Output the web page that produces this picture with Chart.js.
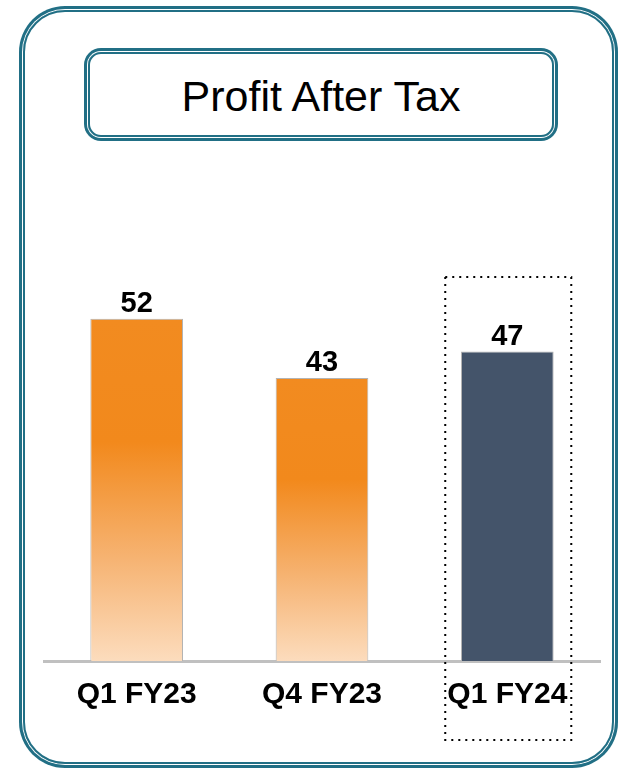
<!DOCTYPE html>
<html>
<head>
<meta charset="utf-8">
<script src="https://cdn.jsdelivr.net/npm/chart.js@4"></script>
<style>
  body { margin: 0; background: #fff; }
  .frame {
    position: absolute; left: 23px; top: 10px; width: 591px; height: 754px;
    box-sizing: border-box; border: 2px solid #216f85; border-radius: 42px;
    box-shadow: 0 0 0 1px #fff, 0 0 0 4px #216f85;
  }
  .title {
    position: absolute; left: 88px; top: 52px; width: 466px; height: 85px;
    box-sizing: border-box; border: 2px solid #216f85; border-radius: 13px;
    box-shadow: 0 0 0 1px #fff, 0 0 0 4px #216f85;
    display: flex; align-items: center; justify-content: center; padding-top: 4px;
    font: 43px "Liberation Sans", Arial, sans-serif; color: #000;
  }
  #wrap { position: absolute; left: 0; top: 0; width: 620px; height: 768px; }
</style>
</head>
<body>
<div class="frame"></div>
<div class="title">Profit After Tax</div>
<div id="wrap"><canvas id="c" width="620" height="768"></canvas></div>
<script>
// dati
var quarters = ['Q1 FY23', 'Q4 FY23', 'Q1 FY24'];
var profit = [52, 43, 47];
var highlightIndex = 2;

var fontFam = '"Liberation Sans", Arial, sans-serif';

// gradiente arancione per ogni barra (dall'alto al basso)
function barColor(context) {
  if (context.dataIndex === highlightIndex) return '#44546a';
  var chart = context.chart;
  if (!chart.chartArea) return '#f28a1e';
  var y = chart.scales.y;
  var top = y.getPixelForValue(context.raw);
  var bottom = y.getPixelForValue(0);
  var g = chart.ctx.createLinearGradient(0, top, 0, bottom);
  g.addColorStop(0, '#f28b20');
  g.addColorStop(0.36, '#f2891c');
  g.addColorStop(0.7, '#f6b372');
  g.addColorStop(1, '#fcdcbd');
  return g;
}

// numeri sopra le barre
var valueLabels = {
  id: 'valueLabels',
  afterDatasetsDraw: function (chart) {
    var ctx = chart.ctx;
    var meta = chart.getDatasetMeta(0);
    ctx.save();
    ctx.font = 'bold 29px ' + fontFam;
    ctx.fillStyle = '#000';
    ctx.textAlign = 'center';
    ctx.textBaseline = 'alphabetic';
    meta.data.forEach(function (bar, i) {
      ctx.fillText(profit[i], bar.x, bar.y - 7);
    });
    ctx.restore();
  }
};

// riquadro tratteggiato attorno all'ultimo trimestre
var highlightBox = {
  id: 'highlightBox',
  afterDraw: function (chart) {
    var ctx = chart.ctx;
    var bar = chart.getDatasetMeta(0).data[highlightIndex];
    var x = chart.scales.x;
    var half = (x.getPixelForValue(1) - x.getPixelForValue(0)) / 2;
    ctx.save();
    ctx.strokeStyle = '#000';
    ctx.lineWidth = 2;
    ctx.setLineDash([2, 5]);
    ctx.strokeRect(bar.x - half * 0.67, 277, half * 1.36, 463);
    ctx.restore();
  }
};

new Chart(document.getElementById('c'), {
  type: 'bar',
  data: {
    labels: quarters,
    datasets: [{
      data: profit,
      backgroundColor: barColor,
      borderColor: '#b3b3b3',
      borderWidth: 1,
      categoryPercentage: 1,
      barPercentage: 0.5
    }]
  },
  options: {
    responsive: false,
    animation: false,
    layout: { padding: { left: 44, right: 20, top: 266, bottom: 39 } },
    plugins: { legend: { display: false }, tooltip: { enabled: false } },
    scales: {
      x: {
        grid: { display: false, drawTicks: false },
        border: { display: true, color: '#c0c0c0', width: 3 },
        ticks: { color: '#000', padding: 16, font: { family: fontFam, size: 30, weight: 'bold' } }
      },
      y: {
        display: false,
        min: 0,
        max: 60
      }
    }
  },
  plugins: [valueLabels, highlightBox]
});
</script>
</body>
</html>
